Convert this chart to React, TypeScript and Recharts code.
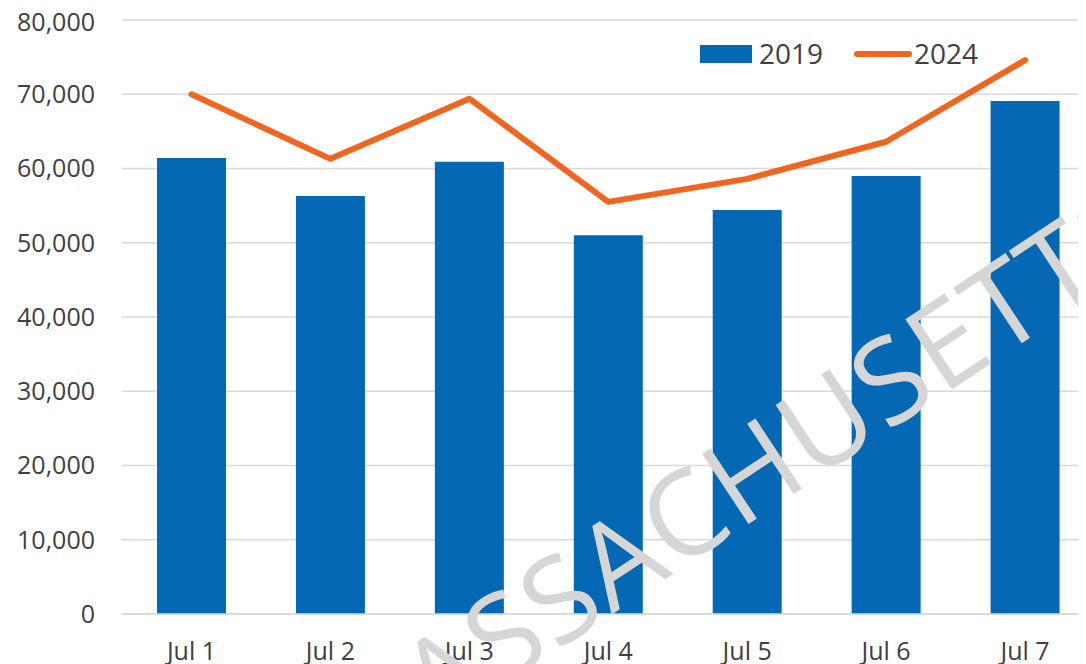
import { ComposedChart, Bar, Line, XAxis, YAxis, CartesianGrid, Customized } from 'recharts'

const days = ['Jul 1', 'Jul 2', 'Jul 3', 'Jul 4', 'Jul 5', 'Jul 6', 'Jul 7']
const visits2019 = [61400, 56300, 60900, 51000, 54400, 59000, 69100]
const visits2024 = [70000, 61300, 69400, 55500, 58600, 63600, 74600]
const yTicks = [0, 10000, 20000, 30000, 40000, 50000, 60000, 70000, 80000]
const seriesNames = ['2019', '2024']
const watermark = 'MASSACHUSETTS'

const BLUE = '#0468b4'
const ORANGE = '#f0661f'
const FONT = '"Open Sans", "Noto Sans", sans-serif'

const data = days.map((day, i) => ({
  day,
  v2019: visits2019[i],
  v2024: visits2024[i],
}))

const fmt = (v: number) => v.toLocaleString('en-US')

function LegendMarks() {
  return (
    <g>
      <rect x={692} y={37} width={52} height={18} fill={BLUE} />
      <text x={751} y={56} fontFamily={FONT} fontSize={28} fill="#404040">
        {seriesNames[0]}
      </text>
      <line x1={849} y1={46} x2={901} y2={46} stroke={ORANGE} strokeWidth={6} strokeLinecap="round" />
      <text x={906} y={56} fontFamily={FONT} fontSize={28} fill="#404040">
        {seriesNames[1]}
      </text>
    </g>
  )
}

export default function App() {
  return (
    <div style={{ position: 'relative', width: 1100, height: 660 }}>
      <ComposedChart
        width={1100}
        height={660}
        data={data}
        margin={{ top: 12, right: 13.5, bottom: 14, left: 0 }}
        style={{ fontFamily: FONT }}
      >
        <CartesianGrid vertical={false} stroke="#d9d9d9" strokeWidth={1.5} />
        <XAxis
          dataKey="day"
          height={40}
          tickLine={false}
          axisLine={{ stroke: '#d9d9d9', strokeWidth: 1.5 }}
          tickSize={0}
          tickMargin={28}
          tick={{ fill: '#404040', fontSize: 25 }}
          interval={0}
        />
        <YAxis
          width={114}
          domain={[0, 80000]}
          ticks={yTicks}
          tickFormatter={fmt}
          axisLine={false}
          tickLine={false}
          tickSize={0}
          tickMargin={27}
          tick={{ fill: '#404040', fontSize: 25 }}
        />
        <Bar dataKey="v2019" name={seriesNames[0]} fill={BLUE} barSize={69} isAnimationActive={false} />
        <Line
          dataKey="v2024"
          name={seriesNames[1]}
          type="linear"
          stroke={ORANGE}
          strokeWidth={6}
          strokeLinecap="round"
          strokeLinejoin="round"
          dot={false}
          activeDot={false}
          isAnimationActive={false}
        />
        <Customized component={LegendMarks} />
      </ComposedChart>
      {/* watermark sits above the bars */}
      <svg
        width={1100}
        height={660}
        style={{ position: 'absolute', top: 0, left: 0, pointerEvents: 'none' }}
      >
        <text
          x={723}
          y={473}
          textAnchor="middle"
          dominantBaseline="central"
          transform="rotate(-33.5, 723, 473)"
          fontFamily={FONT}
          fontSize={118}
          letterSpacing={2}
          fill="#d6d6d6"
        >
          {watermark}
        </text>
      </svg>
    </div>
  )
}
